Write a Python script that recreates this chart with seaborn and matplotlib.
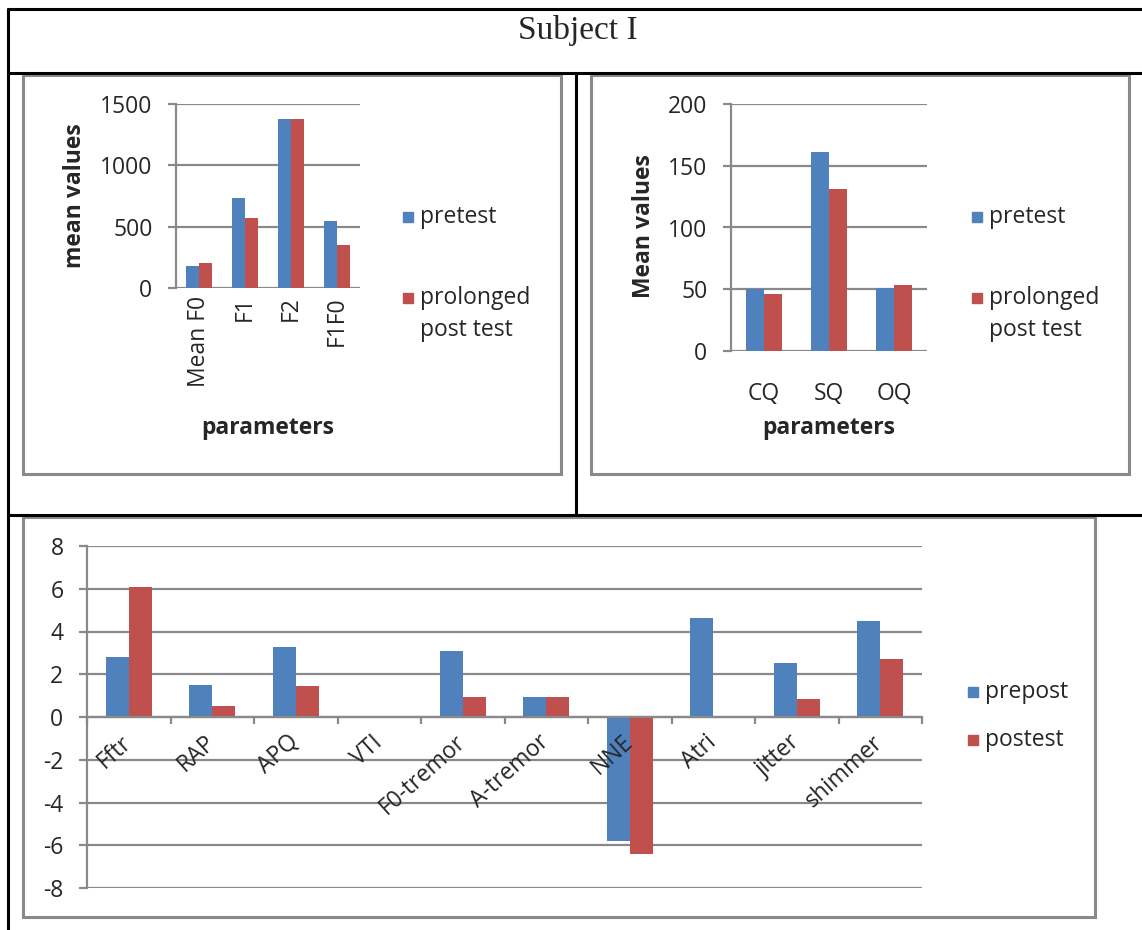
import matplotlib
matplotlib.use("Agg")
import matplotlib.pyplot as plt
from matplotlib.lines import Line2D
from matplotlib.patches import Rectangle
import pandas as pd
import seaborn as sns

# chart 1: formant means
formant_params = ["Mean F0", "F1", "F2", "F1F0"]
formant_pre = [176, 732, 1375, 550]
formant_post = [206, 572, 1375, 352]

# chart 2: EGG quotients
quot_params = ["CQ", "SQ", "OQ"]
quot_pre = [50.2, 161.4, 50.8]
quot_post = [46.4, 131.4, 53.7]

# chart 3: perturbation measures
pert_params = ["Fftr", "RAP", "APQ", "VTI", "F0-tremor", "A-tremor", "NNE", "Atri", "jitter", "shimmer"]
pert_pre = [2.8, 1.52, 3.28, 0.0, 3.11, 0.94, -5.8, 4.64, 2.53, 4.47]
pert_post = [6.1, 0.52, 1.47, 0.0, 0.94, 0.94, -6.39, 0.0, 0.86, 2.73]

top_series = ["pretest", "prolonged\npost test"]
bottom_series = ["prepost", "postest"]

BLUE = "#4F81BD"
RED = "#C0504D"
GRID = "#898989"
W, H = 1142, 930

sns.set_style("white")
plt.rcParams["font.family"] = ["Open Sans", "DejaVu Sans"]
plt.rcParams["axes.unicode_minus"] = False

fig = plt.figure(figsize=(W / 100, H / 100), dpi=100)


def add_ax(x0, y0, x1, y1):
    return fig.add_axes([x0 / W, 1 - y1 / H, (x1 - x0) / W, (y1 - y0) / H])


def fig_line(x0, y0, x1, y1, color="black", lw=2.2):
    fig.add_artist(Line2D([x0 / W, x1 / W], [1 - y0 / H, 1 - y1 / H],
                          color=color, lw=lw, transform=fig.transFigure))


def fig_box(x0, y0, x1, y1):
    fig.add_artist(Rectangle((x0 / W, 1 - y1 / H), (x1 - x0) / W, (y1 - y0) / H,
                             fill=False, ec=GRID, lw=2.2, transform=fig.transFigure))


def legend(x, ys, labels):
    for y, lab, col in zip(ys, labels, [BLUE, RED]):
        fig.add_artist(Rectangle(((x) / W, 1 - (y + 5) / H), 10 / W, 10 / H,
                                 color=col, transform=fig.transFigure))
        fig.text((x + 17) / W, 1 - (y - 12) / H, lab, fontsize=16.5, va="top",
                 ha="left", linespacing=1.45)


def bars(ax, params, pre, post, series, ymin, ymax, step):
    df = pd.DataFrame({
        "param": params * 2,
        "value": pre + post,
        "series": [series[0]] * len(params) + [series[1]] * len(params),
    })
    sns.barplot(data=df, x="param", y="value", hue="series", palette=[BLUE, RED],
                width=0.55, saturation=1, linewidth=0, legend=False, ax=ax, zorder=2)
    ax.set_ylim(ymin, ymax)
    ticks = list(range(ymin, ymax + 1, step))
    ax.set_yticks(ticks)
    for t in ticks:
        ax.axhline(t, color=GRID, lw=1.6, zorder=0)
    ax.set_axisbelow(False)
    for s in ["top", "right", "bottom"]:
        ax.spines[s].set_visible(False)
    ax.spines["left"].set_color(GRID)
    ax.spines["left"].set_linewidth(1.6)
    ax.tick_params(axis="y", direction="out", length=6, width=1.6, color=GRID,
                   pad=11, labelsize=16.5, left=True)
    ax.tick_params(axis="x", length=0, labelsize=16.5)
    ax.set_xlabel("")
    ax.set_ylabel("")
    ax.patch.set_alpha(0)


# table frame
fig_line(8, 9, W, 9)
fig_line(8, 73, W, 73)
fig_line(8, 515, W, 515)
fig_line(8, 9, 8, H)
fig_line(576, 73, 576, 515)
fig.text(578 / W, 1 - 30 / H, "Subject I", fontsize=24, family="Liberation Serif",
         ha="center", va="center")

fig_box(23, 75, 561, 474)
fig_box(591, 75, 1129, 474)
fig_box(23, 517, 1095, 917)

# chart 1
ax1 = add_ax(176, 104, 360, 288)
bars(ax1, formant_params, formant_pre, formant_post, top_series, 0, 1500, 500)
ax1.tick_params(axis="x", labelrotation=90, pad=6)
fig.text(75 / W, 1 - 196 / H, "mean values", rotation=90, fontsize=16.5,
         fontweight="bold", ha="center", va="center")
fig.text(268 / W, 1 - 428 / H, "parameters", fontsize=16.5, fontweight="bold",
         ha="center", va="center")
legend(403, [217, 298], top_series)

# chart 2
ax2 = add_ax(731, 104, 927, 351)
bars(ax2, quot_params, quot_pre, quot_post, top_series, 0, 200, 50)
ax2.tick_params(axis="x", pad=22)
fig.text(644 / W, 1 - 226 / H, "Mean values", rotation=90, fontsize=16.5,
         fontweight="bold", ha="center", va="center")
fig.text(829 / W, 1 - 428 / H, "parameters", fontsize=16.5, fontweight="bold",
         ha="center", va="center")
legend(972, [217, 298], top_series)

# chart 3
ax3 = add_ax(87, 546, 922, 888)
bars(ax3, pert_params, pert_pre, pert_post, bottom_series, -8, 8, 2)
ax3.spines["bottom"].set_visible(True)
ax3.spines["bottom"].set_position(("data", 0))
ax3.spines["bottom"].set_color(GRID)
ax3.spines["bottom"].set_linewidth(1.6)
ax3.set_xticks([i - 0.5 for i in range(len(pert_params) + 1)], minor=True)
ax3.tick_params(axis="x", which="minor", direction="out", length=5, width=1.6,
                color=GRID, bottom=True)
for lab in ax3.get_xticklabels():
    lab.set_rotation(42)
    lab.set_ha("right")
    lab.set_va("center")
    lab.set_rotation_mode("anchor")
ax3.tick_params(axis="x", which="major", pad=16)
legend(968, [692, 740], bottom_series)

fig.savefig("out.png", dpi=100)
